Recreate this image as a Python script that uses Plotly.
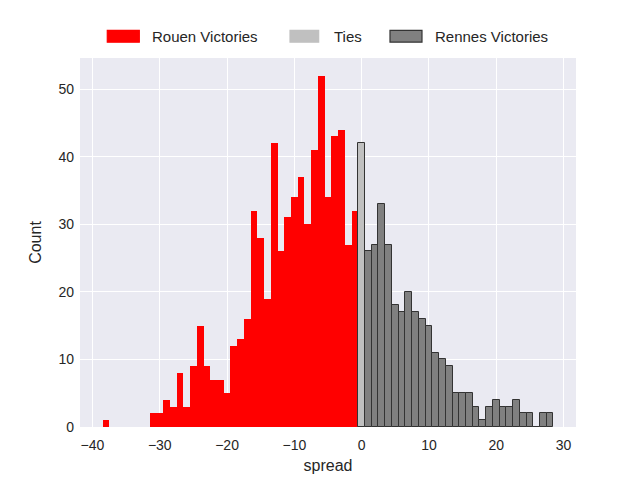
import plotly.graph_objects as go

# spread bins (integer centred) and match counts
rouen_spread = [-38, -37, -36, -35, -34, -33, -32, -31, -30, -29, -28, -27, -26,
                -25, -24, -23, -22, -21, -20, -19, -18, -17, -16, -15, -14, -13,
                -12, -11, -10, -9, -8, -7, -6, -5, -4, -3, -2, -1]
rouen_count = [1, 0, 0, 0, 0, 0, 0, 2, 2, 4, 3, 8, 3,
               9, 15, 9, 7, 7, 5, 12, 13, 16, 32, 28, 19, 42,
               26, 31, 34, 37, 30, 41, 52, 34, 43, 44, 27, 32]

tie_spread = [0]
tie_count = [42]

rennes_spread = [1, 2, 3, 4, 5, 6, 7, 8, 9, 10, 11, 12, 13, 14,
                 15, 16, 17, 18, 19, 20, 21, 22, 23, 24, 25, 26, 27, 28]
rennes_count = [26, 27, 33, 27, 18, 17, 20, 17, 16, 15, 11, 10, 9, 5,
                5, 5, 3, 1, 3, 4, 3, 3, 4, 2, 2, 0, 2, 2]

legend_names = ["Rouen Victories", "Ties", "Rennes Victories"]
legend_fill = ["#ff0000", "#c0c0c0", "#808080"]
legend_edge = ["#ff0000", "#c0c0c0", "#333333"]

fig = go.Figure()
fig.add_trace(go.Bar(x=rouen_spread, y=rouen_count, width=1, name=legend_names[0],
                     marker=dict(color=legend_fill[0], line=dict(width=0))))
fig.add_trace(go.Bar(x=tie_spread, y=tie_count, width=1, name=legend_names[1],
                     marker=dict(color=legend_fill[1], line=dict(color="#333333", width=1))))
fig.add_trace(go.Bar(x=rennes_spread, y=rennes_count, width=1, name=legend_names[2],
                     marker=dict(color=legend_fill[2], line=dict(color="#333333", width=1))))

# matplotlib-style legend: wide patches above the axes
patch_x = [(0.055, 0.1196), (0.4234, 0.4812), (0.625, 0.6895)]
text_x = [0.1411, 0.508, 0.7123]
for name, fill, edge, (x0, x1), tx in zip(legend_names, legend_fill, legend_edge, patch_x, text_x):
    fig.add_shape(type="rect", xref="paper", yref="paper", x0=x0, x1=x1, y0=1.043, y1=1.0747,
                  fillcolor=fill, line=dict(color=edge, width=1.2))
    fig.add_annotation(xref="paper", yref="paper", x=tx, y=1.0584, text=name, showarrow=False,
                       xanchor="left", yanchor="middle", font=dict(size=15, color="#262626"))

fig.update_layout(
    width=640, height=480,
    margin=dict(l=80, r=64, t=58, b=53),
    paper_bgcolor="white",
    plot_bgcolor="#eaeaf2",
    font=dict(family="Liberation Sans, Arial, sans-serif", size=14, color="#262626"),
    bargap=0,
    barmode="overlay",
    showlegend=False,
)
fig.update_xaxes(range=[-41.85, 31.85], tickvals=[-40, -30, -20, -10, 0, 10, 20, 30],
                 ticktext=["\u221240", "\u221230", "\u221220", "\u221210", "0", "10", "20", "30"],
                 showgrid=True, gridcolor="white", gridwidth=1.3, zeroline=False,
                 ticks="", ticklabelstandoff=8, automargin=False,
                 title=dict(text="spread", font=dict(size=16), standoff=7))
fig.update_yaxes(range=[0, 54.6], tickvals=[0, 10, 20, 30, 40, 50],
                 showgrid=True, gridcolor="white", gridwidth=1.3, zeroline=False,
                 ticks="", ticklabelstandoff=5, automargin=False,
                 title=dict(text="Count", font=dict(size=16), standoff=12))

fig.write_html("out.html", config={"displayModeBar": False},
               post_script="document.body.style.margin='0';")
